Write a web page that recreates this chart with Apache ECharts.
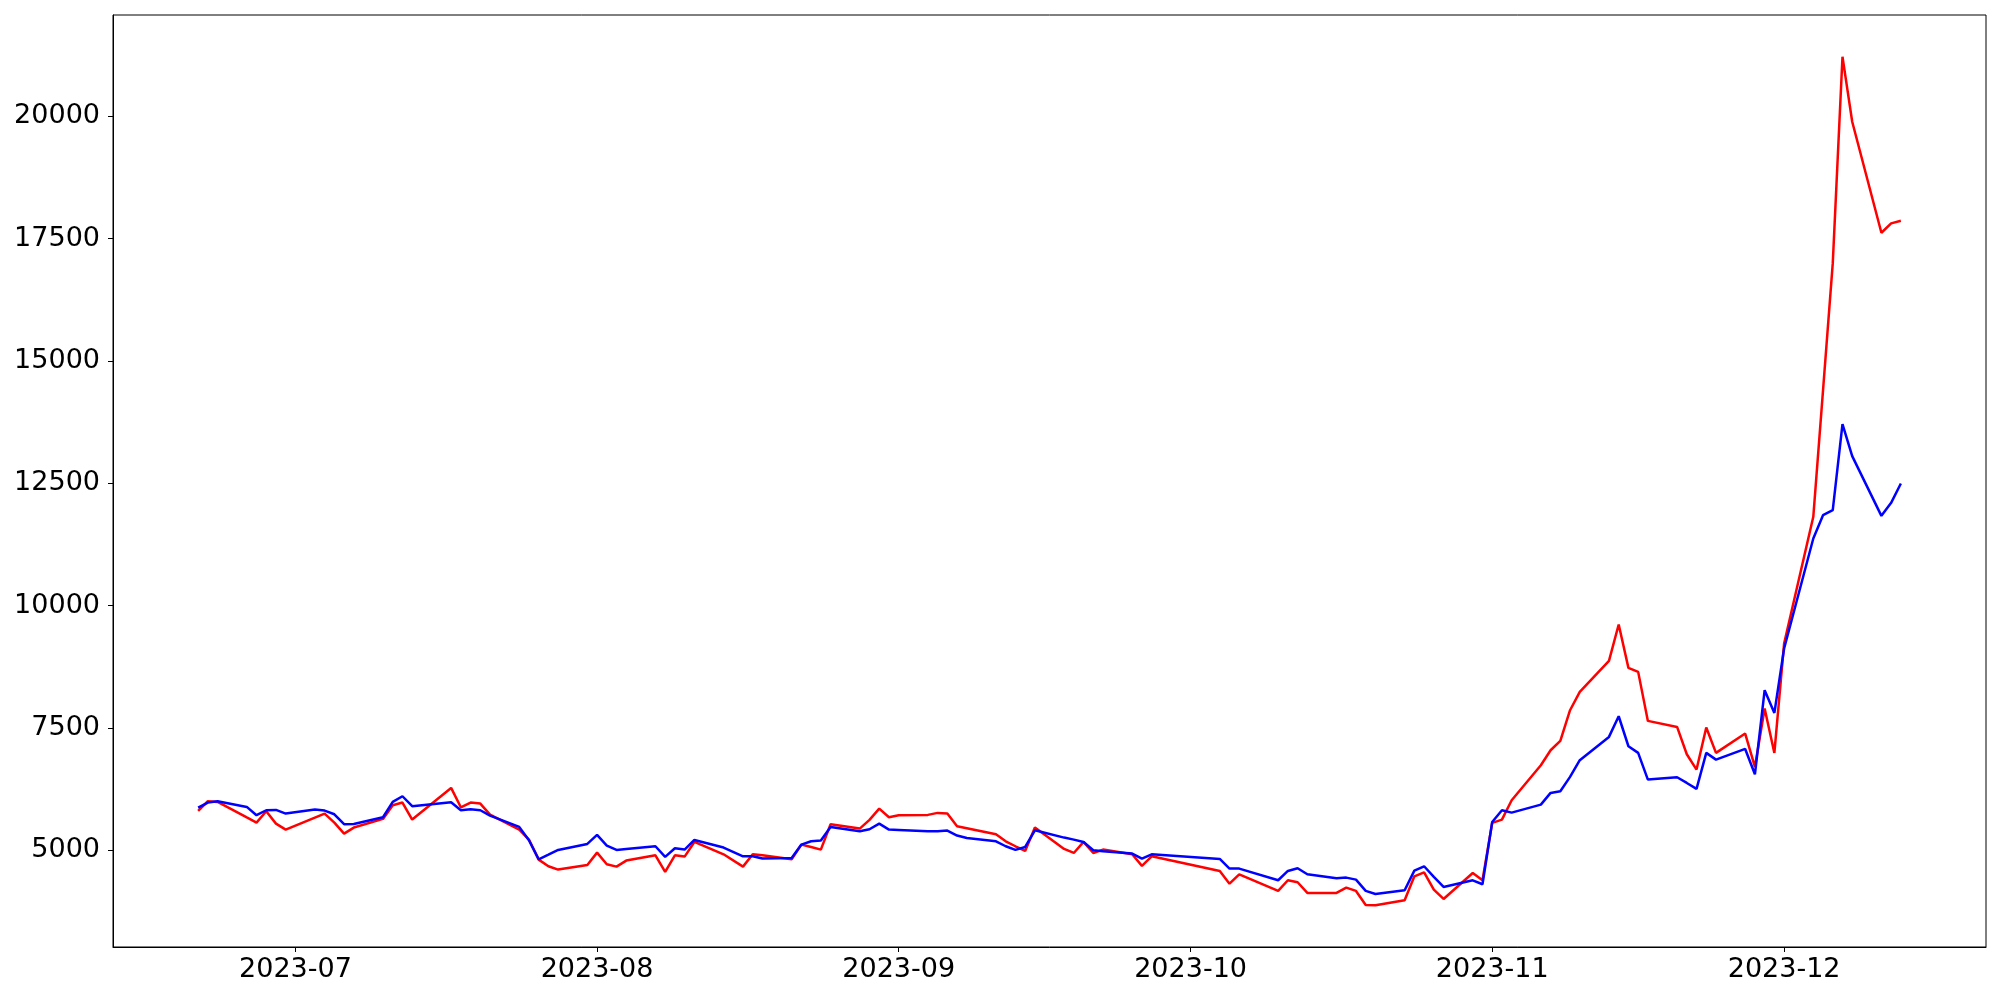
<!DOCTYPE html>
<html>
<head>
<meta charset="utf-8">
<script src="https://cdn.jsdelivr.net/npm/echarts@6/dist/echarts.min.js"></script>
<style>
  html, body { margin: 0; padding: 0; background: #fff; }
  #chart { width: 2000px; height: 1000px; }
</style>
</head>
<body>
<div id="chart"></div>
<script>
// trading days
const dates = [
  '2023-06-21', '2023-06-22', '2023-06-23', '2023-06-26', '2023-06-27', '2023-06-28', '2023-06-29', '2023-06-30',
  '2023-07-03', '2023-07-04', '2023-07-05', '2023-07-06', '2023-07-07', '2023-07-10', '2023-07-11', '2023-07-12',
  '2023-07-13', '2023-07-17', '2023-07-18', '2023-07-19', '2023-07-20', '2023-07-21', '2023-07-24', '2023-07-25',
  '2023-07-26', '2023-07-27', '2023-07-28', '2023-07-31', '2023-08-01', '2023-08-02', '2023-08-03', '2023-08-04',
  '2023-08-07', '2023-08-08', '2023-08-09', '2023-08-10', '2023-08-11', '2023-08-14', '2023-08-16', '2023-08-17',
  '2023-08-18', '2023-08-21', '2023-08-22', '2023-08-23', '2023-08-24', '2023-08-25', '2023-08-28', '2023-08-29',
  '2023-08-30', '2023-08-31', '2023-09-01', '2023-09-04', '2023-09-05', '2023-09-06', '2023-09-07', '2023-09-08',
  '2023-09-11', '2023-09-12', '2023-09-13', '2023-09-14', '2023-09-15', '2023-09-18', '2023-09-19', '2023-09-20',
  '2023-09-21', '2023-09-22', '2023-09-25', '2023-09-26', '2023-09-27', '2023-10-04', '2023-10-05', '2023-10-06',
  '2023-10-10', '2023-10-11', '2023-10-12', '2023-10-13', '2023-10-16', '2023-10-17', '2023-10-18', '2023-10-19',
  '2023-10-20', '2023-10-23', '2023-10-24', '2023-10-25', '2023-10-26', '2023-10-27', '2023-10-30', '2023-10-31',
  '2023-11-01', '2023-11-02', '2023-11-03', '2023-11-06', '2023-11-07', '2023-11-08', '2023-11-09', '2023-11-10',
  '2023-11-13', '2023-11-14', '2023-11-15', '2023-11-16', '2023-11-17', '2023-11-20', '2023-11-21', '2023-11-22',
  '2023-11-23', '2023-11-24', '2023-11-27', '2023-11-28', '2023-11-29', '2023-11-30', '2023-12-01', '2023-12-04',
  '2023-12-05', '2023-12-06', '2023-12-07', '2023-12-08', '2023-12-11', '2023-12-12', '2023-12-13'
]

const redValues = [
  5804, 6002, 5988, 5671, 5566, 5797, 5545, 5423,
  5668, 5750, 5566, 5341, 5464, 5641, 5920, 5975,
  5627, 6274, 5879, 5975, 5954, 5729, 5423, 5218,
  4809, 4673, 4605, 4700, 4952, 4714, 4666, 4789,
  4898, 4557, 4898, 4871, 5170, 4918, 4666, 4918,
  4898, 4816, 5116, 5068, 5014, 5532, 5443, 5620,
  5852, 5675, 5716, 5723, 5764, 5750, 5491, 5450,
  5327, 5184, 5082, 4986, 5464, 5027, 4945, 5170,
  4945, 5014, 4918, 4680, 4877, 4577, 4318, 4509,
  4169, 4387, 4346, 4128, 4128, 4237, 4169, 3882,
  3876, 3978, 4468, 4550, 4196, 4005, 4536, 4386,
  5559, 5627, 6022, 6738, 7044, 7235, 7862, 8237,
  8871, 9614, 8728, 8646, 7644, 7521, 6962, 6649,
  7508, 6990, 7385, 6703, 7896, 6990, 9225, 11815,
  14400, 16994, 21219, 19890, 17621, 17812, 17866
]

const blueValues = [
  5872, 5975, 6002, 5886, 5716, 5818, 5825, 5750,
  5831, 5811, 5736, 5532, 5538, 5675, 5988, 6104,
  5900, 5981, 5818, 5838, 5818, 5709, 5477, 5204,
  4816, 4911, 5007, 5130, 5314, 5096, 5007, 5027,
  5082, 4864, 5041, 5014, 5211, 5055, 4877, 4877,
  4830, 4843, 5116, 5184, 5198, 5477, 5388, 5429,
  5545, 5423, 5416, 5388, 5388, 5402, 5300, 5252,
  5184, 5082, 5007, 5068, 5409, 5259, 5218, 5170,
  5000, 4980, 4932, 4830, 4918, 4823, 4625, 4625,
  4387, 4577, 4632, 4509, 4428, 4441, 4400, 4169,
  4107, 4182, 4584, 4673, 4455, 4250, 4386, 4305,
  5579, 5818, 5770, 5933, 6172, 6206, 6499, 6840,
  7317, 7739, 7126, 6990, 6445, 6492, 6376, 6254,
  6990, 6853, 7071, 6553, 8271, 7807, 9123, 11372,
  11849, 11951, 13710, 13055, 11835, 12101, 12497
]

const yTicks = [5000, 7500, 10000, 12500, 15000, 17500, 20000]
const xTicks = ['2023-07-01', '2023-08-01', '2023-09-01', '2023-10-01', '2023-11-01', '2023-12-01']

function toTime(s) {
  const p = s.split('-')
  return new Date(+p[0], +p[1] - 1, +p[2]).getTime()
}

const chart = echarts.init(document.getElementById('chart'))
const font = 'DejaVu Sans'

chart.setOption({
  animation: false,
  backgroundColor: '#fff',
  grid: {
    left: 113,
    right: 14,
    top: 15,
    bottom: 53,
    containLabel: false,
    show: true,
    borderColor: '#000',
    borderWidth: 1
  },
  xAxis: {
    type: 'value',
    min: new Date(2023, 5, 12, 6).getTime(),
    max: new Date(2023, 11, 21, 18).getTime(),
    axisLine: { show: true, lineStyle: { color: '#000', width: 1 } },
    axisTick: { show: true, length: 5, lineStyle: { color: '#000' }, customValues: xTicks.map(toTime) },
    axisLabel: {
      customValues: xTicks.map(toTime),
      fontFamily: font,
      fontSize: 27,
      color: '#000',
      margin: 9,
      formatter: function(v) {
        const d = new Date(v)
        return d.getFullYear() + '-' + String(d.getMonth() + 1).padStart(2, '0')
      }
    },
    splitLine: { show: false }
  },
  yAxis: {
    type: 'value',
    min: 3023,
    max: 22071,
    axisLine: { show: true, lineStyle: { color: '#000', width: 1 } },
    axisTick: { show: true, length: 5, lineStyle: { color: '#000' }, customValues: yTicks },
    axisLabel: {
      customValues: yTicks,
      fontFamily: font,
      fontSize: 27,
      color: '#000',
      margin: 13,
      formatter: function(v) {
        return String(Math.round(v))
      }
    },
    splitLine: { show: false }
  },
  series: [
    {
      name: 'red',
      type: 'line',
      data: dates.map((d, i) => [toTime(d), redValues[i]]),
      showSymbol: false,
      lineStyle: { color: '#ff0000', width: 2.5 },
      itemStyle: { color: '#ff0000' }
    },
    {
      name: 'blue',
      type: 'line',
      data: dates.map((d, i) => [toTime(d), blueValues[i]]),
      showSymbol: false,
      lineStyle: { color: '#0000ff', width: 2.5 },
      itemStyle: { color: '#0000ff' }
    }
  ]
})
</script>
</body>
</html>
